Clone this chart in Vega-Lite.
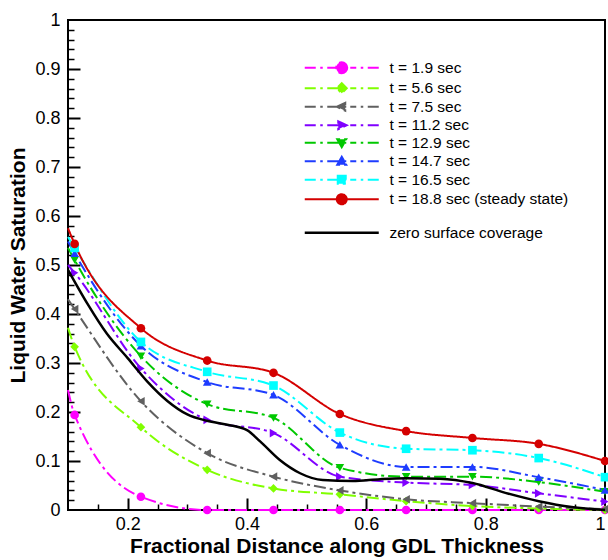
{
  "$schema": "https://vega.github.io/schema/vega-lite/v6.json",
  "width": 537,
  "height": 490,
  "autosize": {"type": "none"},
  "padding": {"left": 68, "top": 20, "right": 3, "bottom": 50},
  "config": {
    "view": {"stroke": "black", "strokeWidth": 2},
    "font": "Liberation Sans",
    "axis": {"domain": false, "grid": false, "labelFont": "Liberation Sans", "labelFontSize": 18, "labelColor": "black", "titleFont": "Liberation Sans", "titleFontSize": 21, "titleFontWeight": "bold", "titleColor": "black", "tickColor": "black"},
    "legend": {"orient": "none", "title": null, "labelFont": "Liberation Sans", "labelFontSize": 15.5, "labelColor": "black", "labelLimit": 0, "padding": 0, "rowPadding": 0.5, "symbolSize": 100, "symbolStrokeWidth": 2, "symbolOffset": 31, "labelOffset": 40}
  },
  "datasets": {
    "series": [
      {"series": "t = 1.9 sec", "x": 0.1, "y": 0.245},
      {"series": "t = 1.9 sec", "x": 0.1111, "y": 0.194},
      {"series": "t = 1.9 sec", "x": 0.2222, "y": 0.027},
      {"series": "t = 1.9 sec", "x": 0.3333, "y": 0.0},
      {"series": "t = 1.9 sec", "x": 0.4444, "y": 0.0},
      {"series": "t = 1.9 sec", "x": 0.5556, "y": 0.0},
      {"series": "t = 1.9 sec", "x": 0.6667, "y": 0.0},
      {"series": "t = 1.9 sec", "x": 0.7778, "y": 0.0},
      {"series": "t = 1.9 sec", "x": 0.8889, "y": 0.0},
      {"series": "t = 1.9 sec", "x": 1.0, "y": 0.0},
      {"series": "t = 5.6 sec", "x": 0.1, "y": 0.372},
      {"series": "t = 5.6 sec", "x": 0.1111, "y": 0.333},
      {"series": "t = 5.6 sec", "x": 0.2222, "y": 0.169},
      {"series": "t = 5.6 sec", "x": 0.3333, "y": 0.082},
      {"series": "t = 5.6 sec", "x": 0.4444, "y": 0.044},
      {"series": "t = 5.6 sec", "x": 0.5556, "y": 0.032},
      {"series": "t = 5.6 sec", "x": 0.6667, "y": 0.018},
      {"series": "t = 5.6 sec", "x": 0.7778, "y": 0.008},
      {"series": "t = 5.6 sec", "x": 0.8889, "y": 0.003},
      {"series": "t = 5.6 sec", "x": 1.0, "y": 0.0},
      {"series": "t = 7.5 sec", "x": 0.1, "y": 0.43},
      {"series": "t = 7.5 sec", "x": 0.1111, "y": 0.41},
      {"series": "t = 7.5 sec", "x": 0.2222, "y": 0.222},
      {"series": "t = 7.5 sec", "x": 0.3333, "y": 0.116},
      {"series": "t = 7.5 sec", "x": 0.4444, "y": 0.068},
      {"series": "t = 7.5 sec", "x": 0.5556, "y": 0.04},
      {"series": "t = 7.5 sec", "x": 0.6667, "y": 0.022},
      {"series": "t = 7.5 sec", "x": 0.7778, "y": 0.014},
      {"series": "t = 7.5 sec", "x": 0.8889, "y": 0.007},
      {"series": "t = 7.5 sec", "x": 1.0, "y": 0.002},
      {"series": "t = 11.2 sec", "x": 0.1, "y": 0.5},
      {"series": "t = 11.2 sec", "x": 0.1111, "y": 0.484},
      {"series": "t = 11.2 sec", "x": 0.2222, "y": 0.289},
      {"series": "t = 11.2 sec", "x": 0.3333, "y": 0.184},
      {"series": "t = 11.2 sec", "x": 0.4444, "y": 0.157},
      {"series": "t = 11.2 sec", "x": 0.5556, "y": 0.068},
      {"series": "t = 11.2 sec", "x": 0.6667, "y": 0.056},
      {"series": "t = 11.2 sec", "x": 0.7778, "y": 0.051},
      {"series": "t = 11.2 sec", "x": 0.8889, "y": 0.034},
      {"series": "t = 11.2 sec", "x": 1.0, "y": 0.017},
      {"series": "t = 12.9 sec", "x": 0.1, "y": 0.535},
      {"series": "t = 12.9 sec", "x": 0.1111, "y": 0.51},
      {"series": "t = 12.9 sec", "x": 0.2222, "y": 0.314},
      {"series": "t = 12.9 sec", "x": 0.3333, "y": 0.216},
      {"series": "t = 12.9 sec", "x": 0.4444, "y": 0.188},
      {"series": "t = 12.9 sec", "x": 0.5556, "y": 0.086},
      {"series": "t = 12.9 sec", "x": 0.6667, "y": 0.068},
      {"series": "t = 12.9 sec", "x": 0.7778, "y": 0.068},
      {"series": "t = 12.9 sec", "x": 0.8889, "y": 0.057},
      {"series": "t = 12.9 sec", "x": 1.0, "y": 0.037},
      {"series": "t = 14.7 sec", "x": 0.1, "y": 0.548},
      {"series": "t = 14.7 sec", "x": 0.1111, "y": 0.524},
      {"series": "t = 14.7 sec", "x": 0.2222, "y": 0.335},
      {"series": "t = 14.7 sec", "x": 0.3333, "y": 0.261},
      {"series": "t = 14.7 sec", "x": 0.4444, "y": 0.235},
      {"series": "t = 14.7 sec", "x": 0.5556, "y": 0.133},
      {"series": "t = 14.7 sec", "x": 0.6667, "y": 0.088},
      {"series": "t = 14.7 sec", "x": 0.7778, "y": 0.088},
      {"series": "t = 14.7 sec", "x": 0.8889, "y": 0.067},
      {"series": "t = 14.7 sec", "x": 1.0, "y": 0.041},
      {"series": "t = 16.5 sec", "x": 0.1, "y": 0.557},
      {"series": "t = 16.5 sec", "x": 0.1111, "y": 0.535},
      {"series": "t = 16.5 sec", "x": 0.2222, "y": 0.343},
      {"series": "t = 16.5 sec", "x": 0.3333, "y": 0.282},
      {"series": "t = 16.5 sec", "x": 0.4444, "y": 0.254},
      {"series": "t = 16.5 sec", "x": 0.5556, "y": 0.158},
      {"series": "t = 16.5 sec", "x": 0.6667, "y": 0.125},
      {"series": "t = 16.5 sec", "x": 0.7778, "y": 0.122},
      {"series": "t = 16.5 sec", "x": 0.8889, "y": 0.106},
      {"series": "t = 16.5 sec", "x": 1.0, "y": 0.067},
      {"series": "t = 18.8 sec (steady state)", "x": 0.1, "y": 0.575},
      {"series": "t = 18.8 sec (steady state)", "x": 0.1111, "y": 0.543},
      {"series": "t = 18.8 sec (steady state)", "x": 0.2222, "y": 0.371},
      {"series": "t = 18.8 sec (steady state)", "x": 0.3333, "y": 0.305},
      {"series": "t = 18.8 sec (steady state)", "x": 0.4444, "y": 0.28},
      {"series": "t = 18.8 sec (steady state)", "x": 0.5556, "y": 0.196},
      {"series": "t = 18.8 sec (steady state)", "x": 0.6667, "y": 0.161},
      {"series": "t = 18.8 sec (steady state)", "x": 0.7778, "y": 0.147},
      {"series": "t = 18.8 sec (steady state)", "x": 0.8889, "y": 0.135},
      {"series": "t = 18.8 sec (steady state)", "x": 1.0, "y": 0.1}
    ],
    "black": [
      {"series": "zero surface coverage", "x": 0.1, "y": 0.49},
      {"series": "zero surface coverage", "x": 0.133, "y": 0.42},
      {"series": "zero surface coverage", "x": 0.165, "y": 0.36},
      {"series": "zero surface coverage", "x": 0.2, "y": 0.31},
      {"series": "zero surface coverage", "x": 0.233, "y": 0.262},
      {"series": "zero surface coverage", "x": 0.267, "y": 0.222},
      {"series": "zero surface coverage", "x": 0.3, "y": 0.195},
      {"series": "zero surface coverage", "x": 0.333, "y": 0.182},
      {"series": "zero surface coverage", "x": 0.367, "y": 0.174},
      {"series": "zero surface coverage", "x": 0.4, "y": 0.163},
      {"series": "zero surface coverage", "x": 0.422, "y": 0.14},
      {"series": "zero surface coverage", "x": 0.455, "y": 0.102},
      {"series": "zero surface coverage", "x": 0.489, "y": 0.075},
      {"series": "zero surface coverage", "x": 0.527, "y": 0.061},
      {"series": "zero surface coverage", "x": 0.577, "y": 0.059},
      {"series": "zero surface coverage", "x": 0.623, "y": 0.063},
      {"series": "zero surface coverage", "x": 0.667, "y": 0.065},
      {"series": "zero surface coverage", "x": 0.723, "y": 0.064},
      {"series": "zero surface coverage", "x": 0.778, "y": 0.055},
      {"series": "zero surface coverage", "x": 0.833, "y": 0.035},
      {"series": "zero surface coverage", "x": 0.889, "y": 0.018},
      {"series": "zero surface coverage", "x": 0.944, "y": 0.006},
      {"series": "zero surface coverage", "x": 1.0, "y": 0.0}
    ]
  },
  "layer": [
    {
      "data": {"name": "series"},
      "mark": {"type": "line", "interpolate": "monotone", "strokeWidth": 2, "clip": false},
      "encoding": {
        "x": {"field": "x", "type": "quantitative", "scale": {"domain": [0.1, 1], "nice": false, "zero": false},
          "axis": {"orient": "bottom", "values": [0.2, 0.4, 0.6, 0.8, 1], "format": "~g", "ticks": false, "labelPadding": 5, "title": "Fractional Distance along GDL Thickness", "titlePadding": 2}},
        "y": {"field": "y", "type": "quantitative", "scale": {"domain": [0, 1], "nice": false},
          "axis": {"orient": "left", "values": [0, 0.1, 0.2, 0.3, 0.4, 0.5, 0.6, 0.7, 0.8, 0.9, 1], "format": "~g", "ticks": false, "labelPadding": 8, "title": "Liquid Water Saturation", "titlePadding": 6}},
        "color": {"field": "series", "type": "nominal",
          "scale": {"domain": ["t = 1.9 sec", "t = 5.6 sec", "t = 7.5 sec", "t = 11.2 sec", "t = 12.9 sec", "t = 14.7 sec", "t = 16.5 sec", "t = 18.8 sec (steady state)"],
            "range": ["#ff00ff", "#80ff00", "#606060", "#8000ff", "#00c800", "#1e3cff", "#00ffff", "#d40000"]},
          "legend": {"legendX": 235, "legendY": 40,
            "encode": {"symbols": {"update": {
              "shape": {"signal": "['M-7.4,0H-5.2M-4.3,0H-3.8M-2.9,0H2.9M3.8,0H4.3M5.2,0H7.4M1.1,0A1.1,1.1,0,1,1,-1.1,0A1.1,1.1,0,1,1,1.1,0Z','M-7.4,0H-5.2M-4.3,0H-3.8M-2.9,0H2.9M3.8,0H4.3M5.2,0H7.4M0,-1L1,0L0,1L-1,0Z','M-7.4,0H-5.2M-4.3,0H-3.8M-2.9,0H2.9M3.8,0H4.3M5.2,0H7.4M-1,0L0.7,-0.8L0.7,0.8Z','M-7.4,0H-5.2M-4.3,0H-3.8M-2.9,0H2.9M3.8,0H4.3M5.2,0H7.4M1,0L-0.7,-0.8L-0.7,0.8Z','M-7.4,0H-5.2M-4.3,0H-3.8M-2.9,0H2.9M3.8,0H4.3M5.2,0H7.4M0,0.9L-0.9,-0.7L0.9,-0.7Z','M-7.4,0H-5.2M-4.3,0H-3.8M-2.9,0H2.9M3.8,0H4.3M5.2,0H7.4M0,-0.9L-0.9,0.7L0.9,0.7Z','M-7.4,0H-5.2M-4.3,0H-3.8M-2.9,0H2.9M3.8,0H4.3M5.2,0H7.4M-0.8,-0.8H0.8V0.8H-0.8Z','M-7.4,0H7.4M1,0A1,1,0,1,1,-1,0A1,1,0,1,1,1,0Z'][indexof(['t = 1.9 sec','t = 5.6 sec','t = 7.5 sec','t = 11.2 sec','t = 12.9 sec','t = 14.7 sec','t = 16.5 sec','t = 18.8 sec (steady state)'], datum.value)]"},
              "fill": {"signal": "['#ff00ff','#80ff00','#606060','#8000ff','#00c800','#1e3cff','#00ffff','#d40000'][indexof(['t = 1.9 sec','t = 5.6 sec','t = 7.5 sec','t = 11.2 sec','t = 12.9 sec','t = 14.7 sec','t = 16.5 sec','t = 18.8 sec (steady state)'], datum.value)]"},
              "stroke": {"signal": "['#ff00ff','#80ff00','#606060','#8000ff','#00c800','#1e3cff','#00ffff','#d40000'][indexof(['t = 1.9 sec','t = 5.6 sec','t = 7.5 sec','t = 11.2 sec','t = 12.9 sec','t = 14.7 sec','t = 16.5 sec','t = 18.8 sec (steady state)'], datum.value)]"},
              "strokeDash": {"value": []},
              "size": {"value": 100},
              "strokeWidth": {"value": 2},
              "opacity": {"value": 1}
            }}}}},
        "strokeDash": {"field": "series", "type": "nominal",
          "scale": {"domain": ["t = 1.9 sec", "t = 5.6 sec", "t = 7.5 sec", "t = 11.2 sec", "t = 12.9 sec", "t = 14.7 sec", "t = 16.5 sec", "t = 18.8 sec (steady state)"],
            "range": [[12, 4, 3, 4], [12, 4, 3, 4], [12, 4, 3, 4], [12, 4, 3, 4], [12, 4, 3, 4], [12, 4, 3, 4], [12, 4, 3, 4], [1, 0]]},
          "legend": null}
      }
    },
    {
      "data": {"name": "series"},
      "transform": [{"filter": "datum.x > 0.105"}],
      "mark": {"type": "point", "filled": true, "opacity": 1, "size": 75, "clip": false},
      "encoding": {
        "x": {"field": "x", "type": "quantitative",
          "axis": {"orient": "bottom", "values": [0.2, 0.4, 0.6, 0.8], "tickSize": -12, "tickWidth": 2, "labels": false, "title": null}},
        "y": {"field": "y", "type": "quantitative",
          "axis": {"orient": "left", "values": [0.1, 0.2, 0.3, 0.4, 0.5, 0.6, 0.7, 0.8, 0.9], "tickSize": -12, "tickWidth": 2, "labels": false, "title": null}},
        "color": {"field": "series", "type": "nominal",
          "scale": {"domain": ["t = 1.9 sec", "t = 5.6 sec", "t = 7.5 sec", "t = 11.2 sec", "t = 12.9 sec", "t = 14.7 sec", "t = 16.5 sec", "t = 18.8 sec (steady state)"],
            "range": ["#ff00ff", "#80ff00", "#606060", "#8000ff", "#00c800", "#1e3cff", "#00ffff", "#d40000"]},
          "legend": null},
        "shape": {"field": "series", "type": "nominal",
          "scale": {"domain": ["t = 1.9 sec", "t = 5.6 sec", "t = 7.5 sec", "t = 11.2 sec", "t = 12.9 sec", "t = 14.7 sec", "t = 16.5 sec", "t = 18.8 sec (steady state)"],
            "range": ["circle", "diamond", "triangle-left", "triangle-right", "triangle-down", "triangle-up", "square", "circle"]},
          "legend": null}
      }
    },
    {
      "data": {"name": "black"},
      "mark": {"type": "line", "interpolate": "monotone", "strokeWidth": 2.5, "clip": false},
      "encoding": {
        "x": {"field": "x", "type": "quantitative",
          "axis": {"orient": "bottom", "values": [0.15, 0.25, 0.3, 0.35, 0.45, 0.5, 0.55, 0.65, 0.7, 0.75, 0.85, 0.9, 0.95], "tickSize": -6, "tickWidth": 1.5, "labels": false, "title": null}},
        "y": {"field": "y", "type": "quantitative",
          "axis": {"orient": "left", "values": [0.02, 0.04, 0.06, 0.08, 0.12, 0.14, 0.16, 0.18, 0.22, 0.24, 0.26, 0.28, 0.32, 0.34, 0.36, 0.38, 0.42, 0.44, 0.46, 0.48, 0.52, 0.54, 0.56, 0.58, 0.62, 0.64, 0.66, 0.68, 0.72, 0.74, 0.76, 0.78, 0.82, 0.84, 0.86, 0.88, 0.92, 0.94, 0.96, 0.98], "tickSize": -6, "tickWidth": 1.5, "labels": false, "title": null}},
        "color": {"field": "series", "type": "nominal",
          "scale": {"domain": ["zero surface coverage"], "range": ["black"]},
          "legend": {"legendX": 235, "legendY": 205,
            "encode": {"symbols": {"update": {
              "shape": {"value": "M-7.4,0H7.4"},
              "fill": {"value": "black"},
              "stroke": {"value": "black"},
              "strokeDash": {"value": []},
              "size": {"value": 100},
              "strokeWidth": {"value": 2.5},
              "opacity": {"value": 1}
            }}}}}
      }
    }
  ],
  "resolve": {
    "scale": {"color": "independent", "shape": "independent", "strokeDash": "independent"},
    "axis": {"x": "independent", "y": "independent"}
  }
}
